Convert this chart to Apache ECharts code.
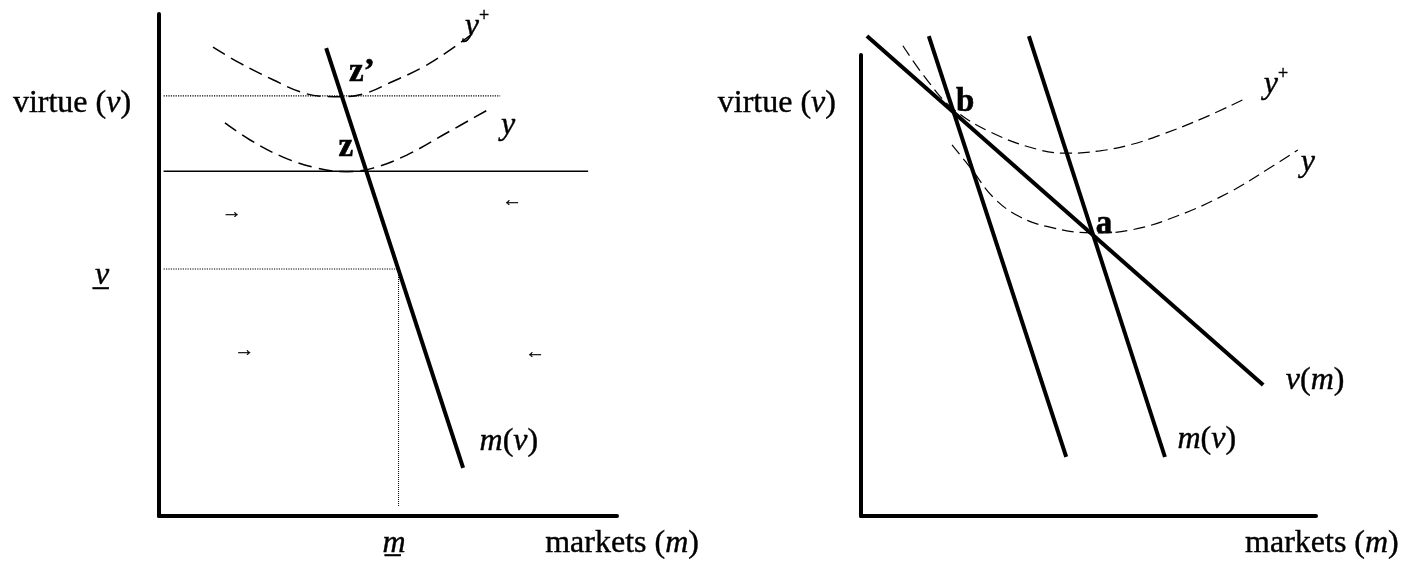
<!DOCTYPE html>
<html>
<head>
<meta charset="utf-8">
<title>virtue and markets</title>
<script src="https://cdn.jsdelivr.net/npm/echarts@6/dist/echarts.min.js"></script>
<style>
  html, body { margin: 0; padding: 0; background: #fff; }
  #main { width: 1416px; height: 562px; }
</style>
</head>
<body>
<div id="main"></div>
<script type="text/javascript">
// ---- left panel (axes 0..100) ----
var mvLeft    = [[36.5, 93.2], [66.4, 9.6]];
var yPlusLeft = [[11.8, 93.4], [17.7, 90.2], [24.9, 86.9], [30.8, 84.5], [35.8, 83.6], [40.0, 83.5],
                 [45.4, 84.3], [50.4, 86.3], [57.6, 89.4], [63.5, 92.8], [68.6, 96.2]];
var yLeft     = [[14.4, 78.3], [19.9, 74.9], [27.1, 71.5], [34.5, 69.3], [41.0, 68.6], [46.7, 69.3],
                 [54.1, 71.9], [62.8, 76.3], [71.8, 80.9]];
var topDotted = [[1, 83.7], [74.5, 83.7]];
var midSolid  = [[1, 68.7], [93.7, 68.7]];
var lowDotted = [[1, 49.2], [52.3, 49.2]];
var vertDotted = [[52.3, 49.2], [52.3, 1.8]];

// ---- right panel (axes 0..100) ----
var vmRight   = [[1.3, 104.1], [88.4, 28.4]];
var mvRight1  = [[14.9, 104.1], [45.1, 12.8]];
var mvRight2  = [[36.9, 104.1], [66.8, 12.8]];
var yPlusRight = [[9.2, 102.0], [14.5, 94.6], [20.0, 88.5], [28.4, 83.3], [39.3, 79.4], [45.9, 78.7],
                  [52.5, 79.2], [59.1, 80.5], [65.7, 82.6], [75.2, 86.3], [84.8, 90.7]];
var yRight    = [[20.0, 80.5], [24.4, 75.1], [29.0, 69.2], [34.9, 64.9], [42.2, 62.5], [51.0, 61.4],
                 [59.1, 62.0], [70.1, 65.3], [81.1, 70.3], [89.2, 75.1], [96.0, 79.4]];

// labels: [x, y, text, kind]
var leftNotes = [
  [-19.0, 82.1, 'virtue ({i|v})', 'axis'],
  [-12.4, 47.8, '{i|v\u0332}', 'axis'],
  [51.3, -5.4, '{i|m\u0332}', 'axis'],
  [101.1, -5.4, 'markets ({i|m})', 'axis'],
  [76.4, 14.9, '{i|m}({i|v})', 'axis'],
  [44.3, 88.4, 'z\u2019', 'bold'],
  [40.8, 73.5, 'z', 'bold'],
  [69.4, 97.4, '{i|y}{sup|+}', 'axis'],
  [76.2, 77.7, '{i|y}', 'axis'],
  [15.9, 60.4, '\u2192', 'arrow'],
  [77.1, 62.7, '\u2190', 'arrow'],
  [18.6, 32.9, '\u2192', 'arrow'],
  [82.1, 32.5, '\u2190', 'arrow']
];
var rightNotes = [
  [-18.5, 89.4, 'virtue ({i|v})', 'axis'],
  [22.9, 89.8, 'b', 'bold'],
  [53.4, 63.3, 'a', 'bold'],
  [91.2, 93.5, '{i|y}{sup|+}', 'axis'],
  [98.2, 76.6, '{i|y}', 'axis'],
  [99.8, 29.3, '{i|v}({i|m})', 'axis'],
  [76.0, 16.5, '{i|m}({i|v})', 'axis'],
  [101.3, -5.9, 'markets ({i|m})', 'axis']
];

var FONT = '"Liberation Serif", "DejaVu Serif", serif';
var kindStyle = {
  axis:  { fontSize: 32, fontWeight: 'normal', stroke: 0.4 },
  bold:  { fontSize: 33, fontWeight: 'bold', stroke: 0.6 },
  arrow: { fontSize: 20, fontWeight: 'normal', stroke: 0.3 }
};

function noteSeries(notes, gi) {
  return {
    type: 'scatter', xAxisIndex: gi, yAxisIndex: gi, silent: true, clip: false,
    symbolSize: 0, itemStyle: { color: '#000', opacity: 1 },
    data: notes.map(function (n) {
      var k = kindStyle[n[3]];
      var txt = { fontFamily: FONT, color: '#000', textBorderColor: '#000', textBorderWidth: k.stroke };
      return {
        value: [n[0], n[1]],
        label: {
          show: true, position: 'inside', color: '#000',
          textBorderColor: '#000', textBorderWidth: k.stroke,
          fontFamily: FONT, fontSize: k.fontSize, fontWeight: k.fontWeight,
          formatter: n[2],
          rich: {
            i: Object.assign({ fontSize: k.fontSize, fontStyle: 'italic' }, txt),
            sup: Object.assign({ fontSize: 18, padding: [0, 0, 22, 0] }, txt)
          }
        }
      };
    })
  };
}

function line(data, gi, width, type, smooth) {
  return {
    type: 'line', xAxisIndex: gi, yAxisIndex: gi, data: data, clip: false,
    symbol: 'none', silent: true, smooth: smooth ? 0.4 : false,
    lineStyle: { color: '#000', width: width, type: type || 'solid' }
  };
}

function axis(gi) {
  return {
    type: 'value', gridIndex: gi, min: 0, max: 100,
    axisLine: { show: true, onZero: false, lineStyle: { color: '#000', width: 4 } },
    axisTick: { show: false }, axisLabel: { show: false }, splitLine: { show: false }
  };
}

var chart = echarts.init(document.getElementById('main'));
chart.setOption({
  animation: false,
  backgroundColor: '#fff',
  grid: [
    { left: 159, top: 14, width: 458, height: 502, outerBoundsMode: 'none' },
    { left: 861, top: 55, width: 455, height: 461, outerBoundsMode: 'none' }
  ],
  xAxis: [axis(0), axis(1)],
  yAxis: [axis(0), axis(1)],
  series: [
    line(topDotted, 0, 1.2, [1.2, 1.2]),
    line(midSolid, 0, 1.5),
    line(lowDotted, 0, 1.2, [1.2, 1.2]),
    line(vertDotted, 0, 1, [1, 1]),
    line(yPlusLeft, 0, 1.5, [14, 7], true),
    line(yLeft, 0, 1.5, [14, 7], true),
    line(mvLeft, 0, 4),
    noteSeries(leftNotes, 0),

    line(yPlusRight, 1, 1.2, [12, 6], true),
    line(yRight, 1, 1.2, [12, 6], true),
    line(vmRight, 1, 4),
    line(mvRight1, 1, 4),
    line(mvRight2, 1, 4),
    noteSeries(rightNotes, 1)
  ]
});
</script>
</body>
</html>
